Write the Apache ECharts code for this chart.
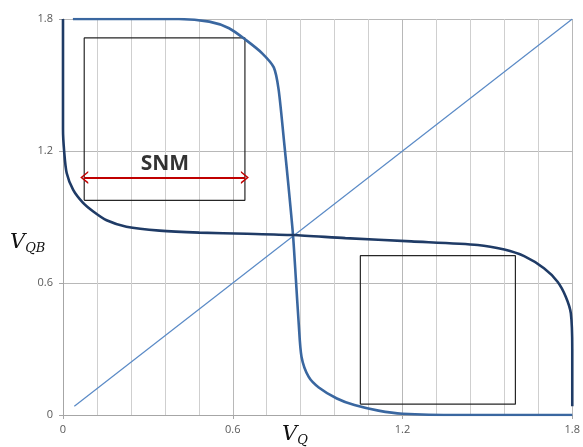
<!DOCTYPE html>
<html>
<head>
<meta charset="utf-8">
<script src="https://cdn.jsdelivr.net/npm/echarts@6/dist/echarts.min.js"></script>
<style>html,body{margin:0;padding:0;background:#fff}#c{width:583px;height:447px}</style>
</head>
<body>
<div id="c"></div>
<script>
// Data
const xTicks = [0, 0.6, 1.2, 1.8];
const yTicks = [0, 0.6, 1.2, 1.8];
const vtc1X = [0.035, 0.2, 0.41, 0.517, 0.587, 0.646, 0.704, 0.745, 0.762, 0.78, 0.797, 0.813, 0.823, 0.833, 0.843, 0.868, 0.904, 0.968, 1.03, 1.115, 1.2, 1.4, 1.8];
const vtc1Y = [1.8, 1.8, 1.8, 1.788, 1.758, 1.705, 1.644, 1.58, 1.48, 1.26, 1.04, 0.818, 0.62, 0.418, 0.265, 0.174, 0.125, 0.075, 0.045, 0.02, 0.006, 0.0, 0.0];
const vtc2X = [0, 0, 0.004, 0.013, 0.036, 0.071, 0.107, 0.154, 0.224, 0.341, 0.482, 0.65, 0.813, 0.998, 1.231, 1.466, 1.56, 1.63, 1.70, 1.748, 1.777, 1.795, 1.8, 1.8];
const vtc2Y = [1.8, 1.3, 1.2, 1.1, 1.023, 0.964, 0.925, 0.885, 0.856, 0.838, 0.829, 0.824, 0.818, 0.804, 0.789, 0.773, 0.752, 0.722, 0.667, 0.606, 0.538, 0.462, 0.3, 0.04];
const diagX = [0.04, 1.8];
const diagY = [0.04, 1.8];
const box1X = [0.075, 0.643];
const box1Y = [0.976, 1.714];
const box2X = [1.051, 1.599];
const box2Y = [0.049, 0.724];
const snmArrowX = [0.075, 0.643];
const snmArrowY = 1.08;
const snmLabel = 'SNM';
const snmLabelPos = [0.36, 1.14];

const zip = (xs, ys) => xs.map((x, i) => [x, ys[i]]);
const rect = (xs, ys) => [[xs[0], ys[0]], [xs[1], ys[0]], [xs[1], ys[1]], [xs[0], ys[1]], [xs[0], ys[0]]];

const chart = echarts.init(document.getElementById('c'), null, {renderer: 'canvas'});
const labelFont = {color: '#595959', fontSize: 11, fontFamily: 'Open Sans'};
const arrowPath = 'path://M0,10 L5,0 L10,10 L8.6,10 L5,2.8 L1.4,10 Z';
chart.setOption({
  animation: false,
  grid: {left: 63, right: 8, top: 19, bottom: 32},
  xAxis: {
    type: 'value', min: 0, max: 1.8, interval: 0.6,
    axisLine: {show: true, onZero: false, lineStyle: {color: '#A6A6A6', width: 1}},
    axisTick: {show: true, length: 4, lineStyle: {color: '#A6A6A6'}},
    axisLabel: Object.assign({margin: 9, formatter: v => xTicks.includes(+v.toFixed(1)) ? String(+v.toFixed(1)) : ''}, labelFont),
    splitLine: {show: true, lineStyle: {color: '#B8B8B8', width: 1}},
    minorTick: {show: false, splitNumber: 5},
    minorSplitLine: {show: true, lineStyle: {color: '#CFCFCF', width: 1}}
  },
  yAxis: {
    type: 'value', min: 0, max: 1.8, interval: 0.6,
    axisLine: {show: true, lineStyle: {color: '#A6A6A6', width: 1}},
    axisTick: {show: true, length: 4, lineStyle: {color: '#A6A6A6'}},
    axisLabel: Object.assign({margin: 10, formatter: v => yTicks.includes(+v.toFixed(1)) ? String(+v.toFixed(1)) : ''}, labelFont),
    splitLine: {show: true, lineStyle: {color: '#B8B8B8', width: 1}}
  },
  series: [
    {type: 'line', data: zip(diagX, diagY), showSymbol: false, lineStyle: {color: '#5A8AC6', width: 1.2}, z: 2},
    {type: 'line', data: rect(box1X, box1Y), showSymbol: false, lineStyle: {color: '#262626', width: 1.2}, z: 3},
    {type: 'line', data: rect(box2X, box2Y), showSymbol: false, lineStyle: {color: '#262626', width: 1.2}, z: 3},
    {type: 'line', data: zip(vtc1X, vtc1Y), showSymbol: false, smooth: 0.25, lineStyle: {color: '#3A67A0', width: 2.6}, z: 4},
    {type: 'line', data: zip(vtc2X, vtc2Y), showSymbol: false, smooth: 0.25, lineStyle: {color: '#1F3B66', width: 2.6}, z: 4},
    {type: 'scatter', data: [snmLabelPos], symbolSize: 0, z: 6,
      label: {show: true, position: 'inside', formatter: snmLabel, color: '#000', fontSize: 21, fontWeight: 'bold', fontFamily: 'Open Sans'}},
    {type: 'line', data: [], z: 5,
      markLine: {silent: true, animation: false,
        symbol: [arrowPath, arrowPath],
        symbolSize: [13, 8], symbolKeepAspect: false,
        label: {show: false},
        lineStyle: {color: '#C00000', width: 1.8, type: 'solid'},
        data: [[{coord: [snmArrowX[0], snmArrowY]}, {coord: [snmArrowX[1], snmArrowY]}]]}}
  ],
  graphic: [
    {type: 'text', left: 10, top: 232, style: {
      rich: {v: {fontFamily: 'DejaVu Serif', fontStyle: 'italic', fontSize: 21, fill: '#111'},
             s: {fontFamily: 'DejaVu Serif', fontStyle: 'italic', fontSize: 13, fill: '#111', padding: [12, 0, 0, 0]}},
      text: '{v|V}{s|QB}'}},
    {type: 'text', left: 282, top: 424, style: {
      rich: {v: {fontFamily: 'DejaVu Serif', fontStyle: 'italic', fontSize: 21, fill: '#111'},
             s: {fontFamily: 'DejaVu Serif', fontStyle: 'italic', fontSize: 13, fill: '#111', padding: [12, 0, 0, 0]}},
      text: '{v|V}{s|Q}'}}
  ]
});
</script>
</body>
</html>
